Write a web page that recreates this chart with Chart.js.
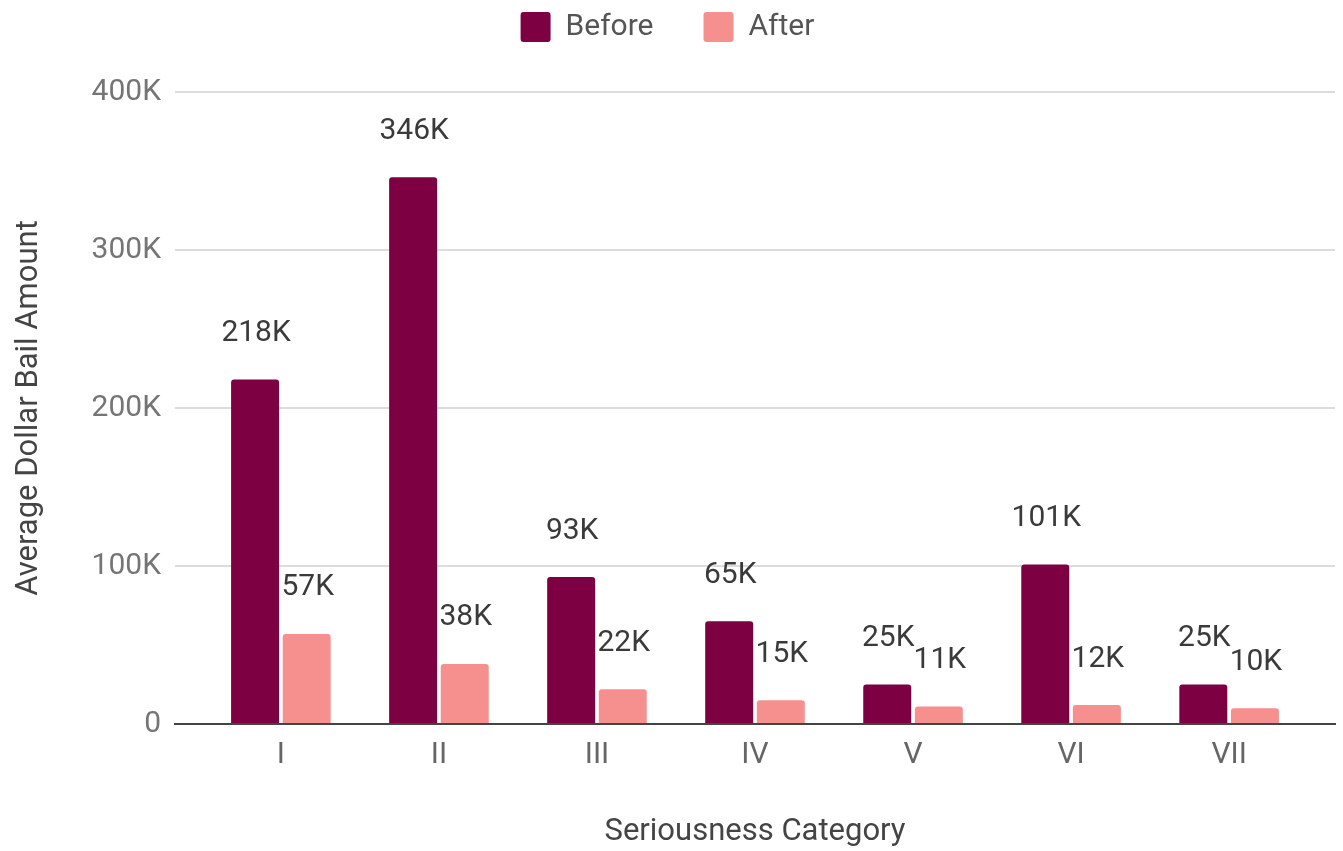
<!DOCTYPE html>
<html>
<head>
<meta charset="utf-8">
<script src="https://cdn.jsdelivr.net/npm/chart.js@4"></script>
<style>
    html, body { margin: 0; padding: 0; background: #fff; }
    #wrap { width: 1343px; height: 851px; position: relative; }
</style>
</head>
<body>
<div id="wrap"><canvas id="chart"></canvas></div>
<script>
const categories = ['I', 'II', 'III', 'IV', 'V', 'VI', 'VII'];
const beforeValues = [218000, 346000, 93000, 65000, 25000, 101000, 25000];
const afterValues = [57000, 38000, 22000, 15000, 11000, 12000, 10000];
const yTicks = [0, 100000, 200000, 300000, 400000];

function fmtK(v) {
    return v === 0 ? '0' : Math.round(v / 1000) + 'K';
}

// value labels above bars, drawn under the bars like the original
const barLabels = {
    id: 'barLabels',
    beforeDatasetsDraw(chart) {
        const ctx = chart.ctx;
        ctx.save();
        ctx.font = '30px Roboto';
        ctx.fillStyle = '#3a3a3a';
        ctx.textAlign = 'center';
        ctx.textBaseline = 'middle';
        chart.data.datasets.forEach((ds, i) => {
            chart.getDatasetMeta(i).data.forEach((bar, j) => {
                ctx.fillText(fmtK(ds.data[j].y), bar.x + 1, bar.y - 46);
            });
        });
        ctx.restore();
    }
};

const ctx = document.getElementById('chart').getContext('2d');

new Chart(ctx, {
    type: 'bar',
    data: {
        datasets: [{
            label: 'Before',
            data: beforeValues.map((v, i) => ({ x: i, y: v })),
            backgroundColor: '#7d0042',
            borderRadius: 3,
            borderSkipped: 'bottom',
            categoryPercentage: 0.653,
            barPercentage: 0.93
        }, {
            label: 'After',
            data: afterValues.map((v, i) => ({ x: i, y: v })),
            backgroundColor: '#f5908f',
            borderRadius: 3,
            borderSkipped: 'bottom',
            categoryPercentage: 0.653,
            barPercentage: 0.93
        }]
    },
    options: {
        responsive: true,
        maintainAspectRatio: false,
        animation: false,
        layout: {
            padding: { left: 0, right: 8, top: -38, bottom: 0 }
        },
        scales: {
            x: {
                type: 'linear',
                offset: false,
                min: -0.67,
                max: 6.67,
                grid: { display: false, offset: false },
                border: { display: true, color: '#444', width: 2 },
                ticks: {
                    stepSize: 1,
                    includeBounds: false,
                    autoSkip: false,
                    maxRotation: 0,
                    padding: 5,
                    color: '#666',
                    font: { family: 'Roboto', size: 30 },
                    callback: (v) => Number.isInteger(v) ? categories[v] : ''
                },
                title: {
                    display: true,
                    text: 'Seriousness Category',
                    color: '#444',
                    font: { family: 'Roboto', size: 31 },
                    padding: { top: 0, bottom: 0 }
                },
                afterFit(scale) {
                    scale.height = 127;
                }
            },
            y: {
                min: 0,
                max: 400000,
                afterBuildTicks(scale) {
                    scale.ticks = yTicks.map(v => ({ value: v }));
                },
                grid: {
                    drawTicks: false,
                    lineWidth: 2,
                    color: (c) => c.tick && c.tick.value === 0 ? '#444' : '#dcdcdc'
                },
                border: { display: false },
                ticks: {
                    padding: 14,
                    color: '#757575',
                    font: { family: 'Roboto', size: 30 },
                    callback: (v) => fmtK(v)
                },
                title: {
                    display: true,
                    text: 'Average Dollar Bail Amount',
                    color: '#444',
                    font: { family: 'Roboto', size: 31 },
                    padding: { top: 11, bottom: 0 }
                },
                afterFit(scale) {
                    scale.width = 175;
                }
            }
        },
        plugins: {
            legend: {
                position: 'top',
                labels: {
                    boxWidth: 30,
                    boxHeight: 30,
                    padding: 50,
                    useBorderRadius: true,
                    borderRadius: 3,
                    color: '#555',
                    font: { family: 'Roboto', size: 30 }
                }
            },
            // empty title used as a spacer between legend and plot
            title: {
                display: true,
                text: '',
                weight: 500,
                font: { size: 10 },
                padding: { top: 28, bottom: 0 }
            },
            tooltip: { enabled: false }
        }
    },
    plugins: [barLabels]
});
</script>
</body>
</html>
